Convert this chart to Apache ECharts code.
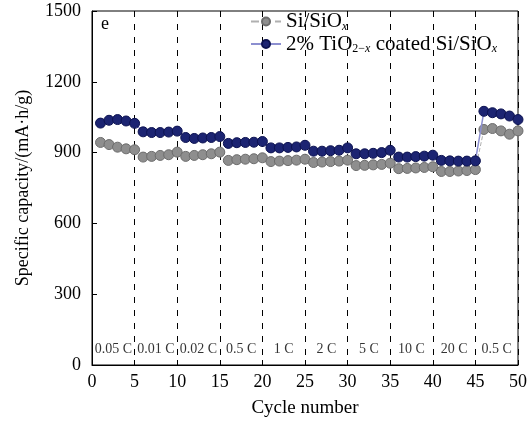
<!DOCTYPE html>
<html>
<head>
<meta charset="utf-8">
<script src="https://cdn.jsdelivr.net/npm/echarts@6/dist/echarts.min.js"></script>
<style>
  html, body { margin: 0; padding: 0; background: #fff; }
  #main { width: 530px; height: 423px; }
</style>
</head>
<body>
<div id="main"></div>
<script>
// cycle numbers 1..50
const cycles = [
  1, 2, 3, 4, 5, 6, 7, 8, 9, 10, 11, 12, 13, 14, 15, 16, 17, 18, 19, 20,
  21, 22, 23, 24, 25, 26, 27, 28, 29, 30, 31, 32, 33, 34, 35, 36, 37, 38, 39, 40,
  41, 42, 43, 44, 45, 46, 47, 48, 49, 50
];

// Si/SiOx
const bareValues = [
  943, 934, 923, 916, 912, 881, 884, 888, 891, 902,
  884, 888, 891, 895, 902, 867, 870, 872, 874, 878,
  862, 864, 866, 868, 872, 858, 860, 862, 864, 868,
  845, 846, 848, 850, 855, 832, 833, 835, 837, 840,
  820, 820, 822, 824, 828, 998, 1002, 992, 978, 992
];

// 2% TiO2-x coated Si/SiOx
const coatedValues = [
  1025, 1037, 1040, 1034, 1024, 988, 985, 985, 987, 991,
  964, 960, 962, 964, 968, 939, 942, 943, 944, 947,
  920, 920, 922, 924, 931, 906, 906, 908, 910, 920,
  895, 895, 897, 900, 910, 881, 881, 883, 885, 889,
  867, 865, 864, 864, 865, 1075, 1069, 1064, 1055, 1040
];

// C-rate per 5-cycle block
const rateLabels = ["0.05 C", "0.01 C", "0.02 C", "0.5 C", "1 C", "2 C", "5 C", "10 C", "20 C", "0.5 C"];
const ratePositions = [2.5, 7.5, 12.5, 17.5, 22.5, 27.5, 32.5, 37.5, 42.5, 47.5];

const font = "Liberation Serif";

const toPairs = (vals) => cycles.map((c, i) => [c, vals[i]]);

const chart = echarts.init(document.getElementById("main"));
chart.setOption({
  animation: false,
  textStyle: { fontFamily: font, color: "#000" },
  title: {
    text: "e",
    left: 96,
    top: 10,
    textStyle: { fontFamily: font, fontSize: 18, fontWeight: "normal", color: "#000" }
  },
  grid: {
    left: 92, right: 12, top: 11, bottom: 55,
    show: true, borderColor: "#000", borderWidth: 1
  },
  legend: {
    orient: "vertical",
    left: 245,
    top: 6,
    itemGap: 1,
    itemWidth: 30,
    itemHeight: 10,
    data: ["Si/SiOx", "2% TiO2-x coated Si/SiOx"],
    formatter: (name) =>
      name === "Si/SiOx"
        ? "Si/SiO{subi|x}"
        : "2% TiO{sub|2\u2212}{subi|x} coated Si/SiO{subi|x}",
    textStyle: {
      fontFamily: font, fontSize: 21, color: "#000",
      rich: {
        sub: { fontFamily: font, fontSize: 12, verticalAlign: "bottom", padding: [10, 0, 0, 0] },
        subi: { fontFamily: font, fontSize: 12, fontStyle: "italic", verticalAlign: "bottom", padding: [10, 0, 0, 0] }
      }
    }
  },
  xAxis: {
    type: "value",
    min: 0, max: 50, interval: 5,
    name: "Cycle number",
    nameLocation: "middle",
    nameGap: 34,
    nameTextStyle: { fontFamily: font, fontSize: 19, color: "#000" },
    axisLine: { lineStyle: { color: "#000" } },
    axisTick: { inside: true, length: 5, lineStyle: { color: "#000" } },
    axisLabel: { fontFamily: font, fontSize: 18, color: "#000", margin: 8 },
    splitLine: { show: true, lineStyle: { color: "#000", type: [6, 7], width: 1 } }
  },
  yAxis: {
    type: "value",
    min: 0, max: 1500, interval: 300,
    name: "Specific capacity/(mA\u00b7h/g)",
    nameLocation: "middle",
    nameGap: 60,
    nameTextStyle: { fontFamily: font, fontSize: 18, color: "#000" },
    axisLine: { lineStyle: { color: "#000" } },
    axisTick: { inside: true, length: 5, lineStyle: { color: "#000" } },
    axisLabel: { fontFamily: font, fontSize: 18, color: "#000", margin: 11, formatter: (v) => String(v) },
    splitLine: { show: false }
  },
  series: [
    {
      name: "Si/SiOx",
      type: "line",
      data: toPairs(bareValues),
      symbol: "circle",
      symbolSize: 10,
      lineStyle: { color: "#b0b0b0", width: 1, type: "dashed" },
      itemStyle: { color: "#8e8e8e", borderColor: "#6c6c6c", borderWidth: 1 },
      z: 3
    },
    {
      name: "2% TiO2-x coated Si/SiOx",
      type: "line",
      data: toPairs(coatedValues),
      symbol: "circle",
      symbolSize: 10,
      lineStyle: { color: "#8c8fd0", width: 1.5 },
      itemStyle: { color: "#1c2472", borderColor: "#0c1250", borderWidth: 1 },
      z: 4
    },
    {
      name: "rates",
      type: "scatter",
      data: ratePositions.map((x) => [x, 66]),
      symbolSize: 0,
      silent: true,
      label: {
        show: true,
        position: "inside",
        formatter: (p) => rateLabels[p.dataIndex],
        fontFamily: font,
        fontSize: 14,
        color: "#000"
      }
    }
  ]
});
</script>
</body>
</html>
